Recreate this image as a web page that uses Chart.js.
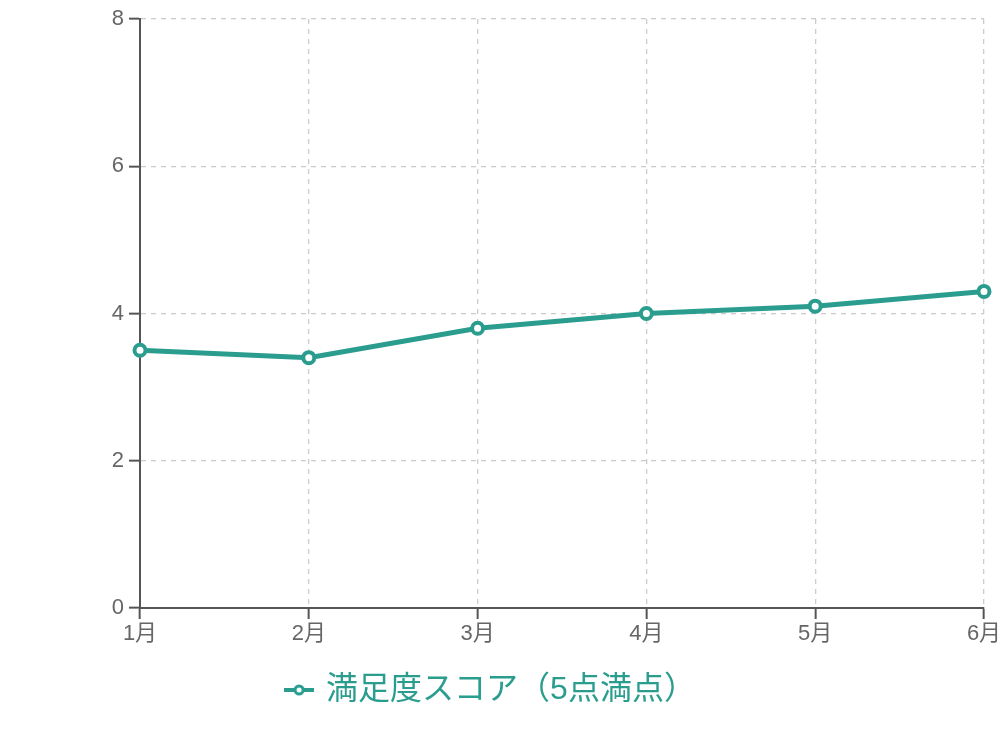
<!DOCTYPE html>
<html>
<head>
<meta charset="utf-8">
<script src="https://cdn.jsdelivr.net/npm/chart.js@4.4.1/dist/chart.umd.min.js"></script>
<style>
  html, body { margin: 0; padding: 0; background: #fff; }
  #wrap { width: 1004px; height: 736px; }
</style>
</head>
<body>
<div id="wrap"><canvas id="lineChart" width="1004" height="736"></canvas></div>
<script>
const months = ['1月', '2月', '3月', '4月', '5月', '6月'];
const scores = [3.5, 3.4, 3.8, 4.0, 4.1, 4.3];
const yTicks = [0, 2, 4, 6, 8];
const seriesName = '満足度スコア（5点満点）';

const teal = '#2a9d8f';
const fontFamily = '"Liberation Sans", Arial, "Noto Sans CJK JP", sans-serif';

// legend icon: short line with a hollow circle
const icon = document.createElement('canvas');
icon.width = 30; icon.height = 16;
(function () {
    const c = icon.getContext('2d');
    c.strokeStyle = teal;
    c.lineWidth = 4;
    c.beginPath(); c.moveTo(0, 8); c.lineTo(30, 8); c.stroke();
    c.fillStyle = '#fff';
    c.lineWidth = 3;
    c.beginPath(); c.arc(15, 8, 4, 0, Math.PI * 2); c.fill(); c.stroke();
})();

Chart.defaults.font.family = fontFamily;
Chart.defaults.animation = false;

new Chart(document.getElementById('lineChart').getContext('2d'), {
    type: 'line',
    data: {
        labels: months,
        datasets: [{
            label: seriesName,
            data: scores,
            borderColor: teal,
            backgroundColor: '#fff',
            borderWidth: 5,
            tension: 0,
            pointRadius: 5.5,
            pointBorderWidth: 4,
            pointBackgroundColor: '#fff',
            pointBorderColor: teal,
        }]
    },
    options: {
        responsive: false,
        layout: { padding: { top: 19, right: 20, bottom: 20, left: 0 } },
        plugins: {
            legend: {
                position: 'bottom',
                labels: {
                    color: teal,
                    font: { size: 32 },
                    usePointStyle: true,
                    pointStyleWidth: 22,
                    padding: 11,
                    generateLabels: chart => [{
                        text: seriesName,
                        pointStyle: icon,
                        fontColor: teal,
                        strokeStyle: teal,
                        fillStyle: '#fff',
                        datasetIndex: 0
                    }]
                }
            },
            tooltip: { enabled: false }
        },
        scales: {
            x: {
                grid: {
                    color: '#cccccc',
                    lineWidth: 1.3,
                    tickColor: '#555555',
                    tickLength: 11,
                    tickWidth: 2
                },
                border: { color: '#555555', width: 2, dash: [5, 5] },
                ticks: { color: '#666666', font: { size: 22 }, padding: 2, maxRotation: 0 },
                afterFit: s => { s.height = 55; }
            },
            y: {
                min: 0,
                max: 8,
                afterBuildTicks: s => { s.ticks = yTicks.map(v => ({ value: v })); },
                grid: {
                    color: '#cccccc',
                    lineWidth: 1.3,
                    tickColor: '#555555',
                    tickLength: 11,
                    tickWidth: 2
                },
                border: { color: '#555555', width: 2, dash: [5, 5] },
                ticks: { color: '#666666', font: { size: 22 }, padding: 5 },
                afterFit: s => { s.width = 140; }
            }
        }
    }
});
</script>
</body>
</html>
